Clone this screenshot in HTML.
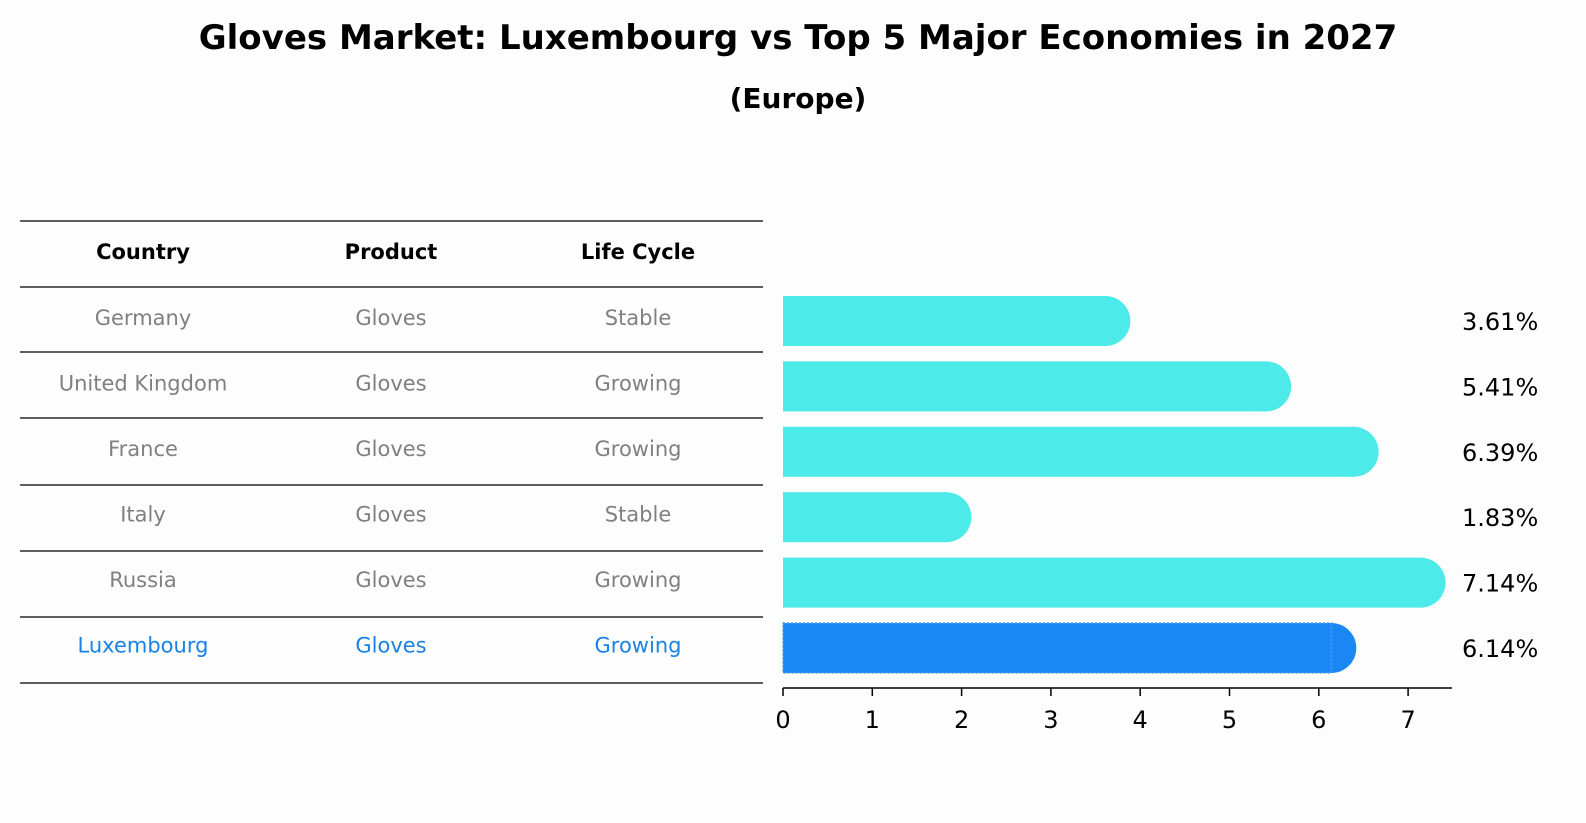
<!DOCTYPE html>
<html><head><meta charset="utf-8"><style>
body{margin:0;background:#fdfdfd;font-family:"Liberation Sans","DejaVu Sans",sans-serif;}
svg{display:block}
</style></head><body>
<svg width="1586" height="823" viewBox="0 0 1586 823">
<text x="798" y="49" text-anchor="middle" font-size="34" font-weight="bold" font-family="DejaVu Sans, sans-serif">Gloves Market: Luxembourg vs Top 5 Major Economies in 2027</text>
<text x="798" y="108" text-anchor="middle" font-size="28" font-weight="bold" font-family="DejaVu Sans, sans-serif">(Europe)</text>
<g id="table"></g>
<g id="bars"></g>
<g id="axis"></g>
</svg>
<script>
const countries=["Germany","United Kingdom","France","Italy","Russia","Luxembourg"];
const products=["Gloves","Gloves","Gloves","Gloves","Gloves","Gloves"];
const lifeCycle=["Stable","Growing","Growing","Stable","Growing","Growing"];
const values=[3.61,5.41,6.39,1.83,7.14,6.14];
const ticks=[0,1,2,3,4,5,6,7];
const NS="http://www.w3.org/2000/svg";
function mk(tag,attrs,parent,text){const e=document.createElementNS(NS,tag);for(const k in attrs)e.setAttribute(k,attrs[k]);if(text!==undefined)e.textContent=text;parent.appendChild(e);return e;}
const x=v=>783+v*89.3;
const rowY=i=>321+i*65;
const table=document.getElementById('table');
const lineYs=[221,287,352,418,485,551,617,683];
lineYs.forEach((ly,i)=>{const l=mk('line',{x1:20,x2:763,y1:ly,y2:ly,stroke:'#000','stroke-width':1.2},table);

});
const colX=[143,391,638];
["Country","Product","Life Cycle"].forEach((h,j)=>{const t=mk('text',{x:colX[j],y:259,'text-anchor':'middle','font-size':21,'font-weight':'bold','font-family':'DejaVu Sans, sans-serif'},table,h);

});
countries.forEach((c,i)=>{const col=i===countries.length-1?'#1a82e2':'#808080';
[c,products[i],lifeCycle[i]].forEach((v,j)=>{const t=mk('text',{x:colX[j],y:rowY(i)+4+(i>0?i*0.5:0),'text-anchor':'middle','font-size':21,fill:col,'font-family':'DejaVu Sans, sans-serif'},table,v);

});});
const bars=document.getElementById('bars');
values.forEach((v,i)=>{const last=i===values.length-1;const fill=last?'#1a87f5':'#4ceae8';const cy=rowY(i)+(i>0?i*0.4:0);
const g=mk('g',{},bars);


mk('rect',{x:x(0),y:cy-25,width:x(v)-x(0),height:50,fill:fill},g);
mk('circle',{cx:x(v),cy:cy,r:25,fill:fill},g);
if(last)mk('rect',{x:x(0),y:cy-25,width:x(v)-x(0),height:50,fill:'none',stroke:'#4a9ff0','stroke-width':1.5,'stroke-dasharray':'2 2'},g);
const t=mk('text',{x:1462,y:cy+9,'font-size':24,'font-family':'DejaVu Sans, sans-serif'},bars,v.toFixed(2)+'%');

});
const axis=document.getElementById('axis');
mk('line',{x1:x(0),x2:1452,y1:688,y2:688,stroke:'#000','stroke-width':1.5},axis);
ticks.forEach(tv=>{mk('line',{x1:x(tv),x2:x(tv),y1:688,y2:696,stroke:'#000','stroke-width':1.5},axis);
const t=mk('text',{x:x(tv),y:728,'text-anchor':'middle','font-size':24,'font-family':'DejaVu Sans, sans-serif'},axis,String(tv));

});
</script>
</body></html>
